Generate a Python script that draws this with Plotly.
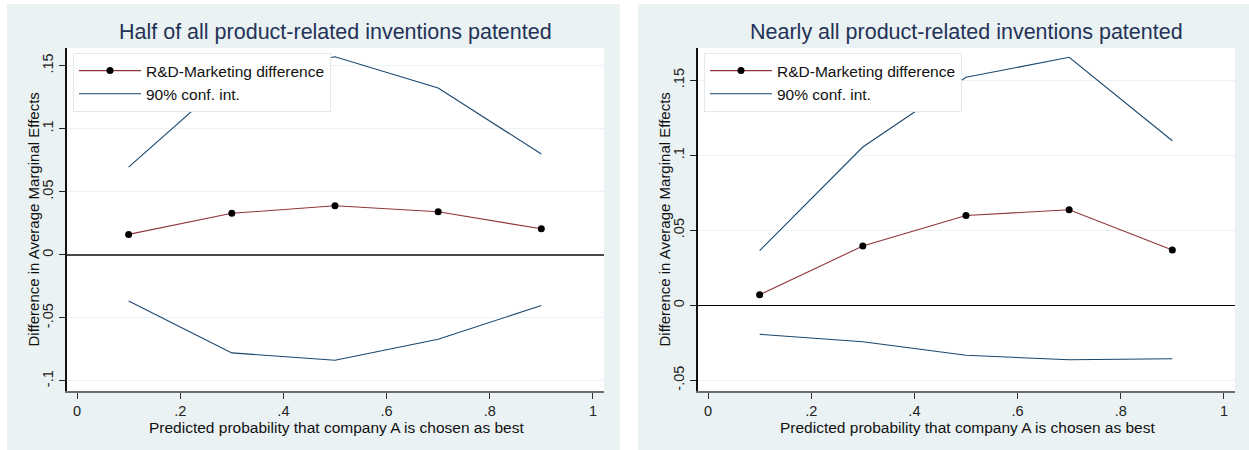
import plotly.graph_objects as go

# Predicted probability grid at which the marginal effects were evaluated
prob = [0.1, 0.3, 0.5, 0.7, 0.9]

# Scenario 1: half of all product-related inventions patented
half_diff = [0.0162, 0.0329, 0.0389, 0.0341, 0.0206]
half_upper = [0.0696, 0.142, 0.157, 0.1323, 0.0799]
half_lower = [-0.0367, -0.0778, -0.0836, -0.0669, -0.0402]

# Scenario 2: nearly all product-related inventions patented
all_diff = [0.0071, 0.0395, 0.0599, 0.0637, 0.0369]
all_upper = [0.0364, 0.1055, 0.152, 0.1653, 0.1097]
all_lower = [-0.0193, -0.0243, -0.0333, -0.0363, -0.0356]

titles = ["Half of all product-related inventions patented",
          "Nearly all product-related inventions patented"]
x_title = "Predicted probability that company A is chosen as best"
y_title = "Difference in Average Marginal Effects"

x_ticks = [0, 0.2, 0.4, 0.6, 0.8, 1]
x_ticktext = ["0", ".2", ".4", ".6", ".8", "1"]
y_ticks_half = [-0.1, -0.05, 0, 0.05, 0.1, 0.15]
y_ticktext_half = ["-.1", "-.05", "0", ".05", ".1", ".15"]
y_ticks_all = [-0.05, 0, 0.05, 0.1, 0.15]
y_ticktext_all = ["-.05", "0", ".05", ".1", ".15"]

W, H = 1249, 450
FONT = "Liberation Sans, Arial, sans-serif"
MAROON = "#90353B"
NAVY = "#1A476F"
PANEL = "#EAF2F3"
TITLE_COL = "#243257"


def px_x(p):
    return p / W


def px_y(p):
    return 1 - p / H


fig = go.Figure()

panels = [
    dict(diff=half_diff, up=half_upper, lo=half_lower, xa="x", ya="y",
         legend="legend", yrange=[-0.108, 0.164], yt=y_ticks_half,
         ytt=y_ticktext_half, plot=(67, 604), box=(7, 620),
         zcol="#4a4a4a", zw=1.5),
    dict(diff=all_diff, up=all_upper, lo=all_lower, xa="x2", ya="y2",
         legend="legend2", yrange=[-0.0571, 0.1715], yt=y_ticks_all,
         ytt=y_ticktext_all, plot=(698, 1235), box=(638, 1249),
         zcol="#000000", zw=1.2),
]

shapes = []
annotations = []
PLOT_TOP, PLOT_BOT = 48, 391

for i, p in enumerate(panels):
    fig.add_trace(go.Scatter(
        x=prob, y=p["up"], mode="lines", name="90% conf. int.",
        line=dict(color=NAVY, width=1.1), xaxis=p["xa"], yaxis=p["ya"],
        legend=p["legend"], legendgroup=f"ci{i}", legendrank=2))
    fig.add_trace(go.Scatter(
        x=prob, y=p["lo"], mode="lines", name="90% conf. int.",
        line=dict(color=NAVY, width=1.1), xaxis=p["xa"], yaxis=p["ya"],
        legend=p["legend"], legendgroup=f"ci{i}", showlegend=False))
    fig.add_trace(go.Scatter(
        x=prob, y=p["diff"], mode="lines+markers",
        name="R&D-Marketing difference",
        line=dict(color=MAROON, width=1.1),
        marker=dict(color="black", size=7),
        xaxis=p["xa"], yaxis=p["ya"], legend=p["legend"], legendrank=1))

    sfx = "" if i == 0 else "2"
    x0, x1 = p["plot"]
    fig.layout["xaxis" + sfx] = dict(
        domain=[px_x(x0), px_x(x1)], range=[-0.0195, 1.0215],
        anchor="y" + sfx, tickvals=x_ticks, ticktext=x_ticktext,
        ticks="outside", ticklen=6, tickcolor="#333", tickwidth=1.2,
        showgrid=False, zeroline=False, showline=True,
        linecolor="#6e6e6e", linewidth=2,
        tickfont=dict(family=FONT, size=14.5, color="#222"))
    fig.layout["yaxis" + sfx] = dict(
        domain=[px_y(PLOT_BOT), px_y(PLOT_TOP)], range=p["yrange"],
        anchor="x" + sfx, tickvals=p["yt"], ticktext=p["ytt"],
        tickangle=-90, ticks="outside", ticklen=6, tickcolor="#222",
        tickwidth=1.2, showgrid=True, gridcolor=PANEL, gridwidth=1,
        zeroline=True, zerolinecolor=p["zcol"], zerolinewidth=p["zw"],
        showline=True, linecolor="#111", linewidth=1.5,
        tickfont=dict(family=FONT, size=14.5, color="#222"))

    # outer graph region and white plot region
    b0, b1 = p["box"]
    shapes.append(dict(type="rect", xref="paper", yref="paper",
                       x0=px_x(b0), x1=px_x(b1), y0=0, y1=px_y(4),
                       fillcolor=PANEL, line=dict(width=0), layer="below"))
    shapes.append(dict(type="rect", xref="paper", yref="paper",
                       x0=px_x(x0), x1=px_x(x1),
                       y0=px_y(PLOT_BOT), y1=px_y(PLOT_TOP),
                       fillcolor="white", line=dict(width=0), layer="below"))

    cx = (x0 + x1) / 2
    annotations.append(dict(text=titles[i], xref="paper", yref="paper",
                            x=px_x(cx), y=px_y(32), showarrow=False,
                            xanchor="center", yanchor="middle",
                            font=dict(family=FONT, size=21.5, color=TITLE_COL)))
    annotations.append(dict(text=x_title, xref="paper", yref="paper",
                            x=px_x(cx + 1), y=px_y(427), showarrow=False,
                            xanchor="center", yanchor="middle",
                            font=dict(family=FONT, size=15.5, color="#111")))
    annotations.append(dict(text=y_title, xref="paper", yref="paper",
                            x=px_x(x0 - 34), y=px_y((PLOT_TOP + PLOT_BOT) / 2),
                            textangle=-90, showarrow=False,
                            xanchor="center", yanchor="middle",
                            font=dict(family=FONT, size=15, color="#111")))

legend_style = dict(bgcolor="white", bordercolor="#E1E9EB", borderwidth=1,
                    font=dict(family=FONT, size=15.5, color="#111"),
                    xanchor="left", yanchor="top", itemwidth=62,
                    tracegroupgap=0)
fig.update_layout(
    width=W, height=H,
    margin=dict(l=0, r=0, t=0, b=0),
    paper_bgcolor="white", plot_bgcolor="white",
    shapes=shapes, annotations=annotations,
    legend=dict(x=px_x(73), y=px_y(53), **legend_style),
    legend2=dict(x=px_x(704), y=px_y(53), **legend_style),
    font=dict(family=FONT),
)

fig.write_html("out.html")
